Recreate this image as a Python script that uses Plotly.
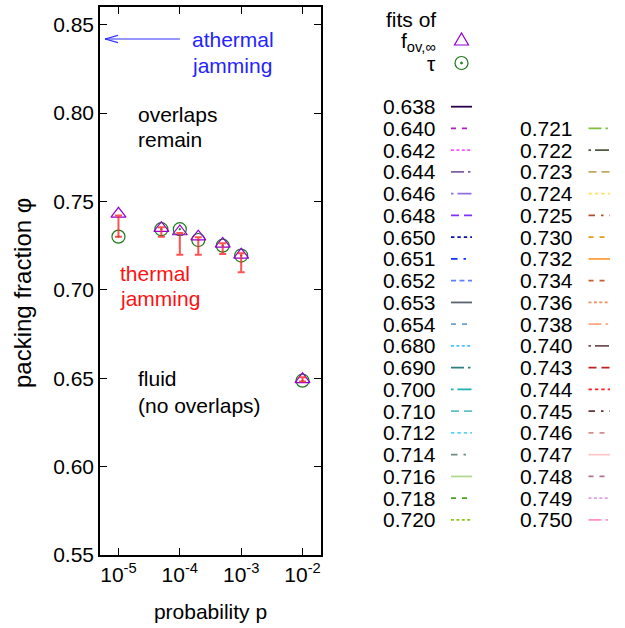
import plotly.graph_objects as go

# ---------------- data ----------------
p_vals = [1e-5, 5e-5, 1e-4, 2e-4, 5e-4, 1e-3, 1e-2]
phi_fov = [0.7430, 0.7349, 0.7330, 0.7301, 0.7260, 0.7198, 0.6494]
phi_tau = [0.7301, 0.7343, 0.7343, 0.7282, 0.7250, 0.7194, 0.6486]
err_low = [0.7301, 0.7301, 0.7198, 0.7198, 0.7203, 0.7099, 0.6481]
err_high = [0.7420, 0.7354, 0.7321, 0.7298, 0.7264, 0.7207, 0.6506]

x_tick_vals = [1e-5, 1e-4, 1e-3, 1e-2]
x_tick_text = ["10<sup>-5</sup>", "10<sup>-4</sup>", "10<sup>-3</sup>", "10<sup>-2</sup>"]
y_tick_vals = [0.55, 0.60, 0.65, 0.70, 0.75, 0.80, 0.85]
y_tick_text = ["0.55", "0.60", "0.65", "0.70", "0.75", "0.80", "0.85"]

key_col1_labels = ["0.638", "0.640", "0.642", "0.644", "0.646", "0.648", "0.650",
                   "0.651", "0.652", "0.653", "0.654", "0.680", "0.690", "0.700",
                   "0.710", "0.712", "0.714", "0.716", "0.718", "0.720"]
key_col2_labels = ["0.721", "0.722", "0.723", "0.724", "0.725", "0.730", "0.732",
                   "0.734", "0.736", "0.738", "0.740", "0.743", "0.744", "0.745",
                   "0.746", "0.747", "0.748", "0.749", "0.750"]

# ---------------- styles ----------------
key_col1_colors = ["#2a0050", "#b020c0", "#ff50ff", "#8060a0", "#9070e0", "#8030ff",
                   "#1010a0", "#1030ff", "#6080ff", "#5a6470", "#70a0c0", "#50c0ff",
                   "#308080", "#20b0b0", "#60c0c8", "#60d0f0", "#709080", "#b0d890",
                   "#50a020", "#90c820"]
key_col2_colors = ["#80c040", "#505840", "#c0a860", "#ffe060", "#b05030", "#e0a020",
                   "#ffa040", "#c06030", "#f09060", "#ffa880", "#705050", "#c02020",
                   "#ff2020", "#603838", "#d09090", "#ffc8c8", "#b07090", "#e0a0e0",
                   "#ff90c8"]
D_SOLID = "solid"
D_DASH = "5px,6px"
D_DOT = "3px,2.4px"
D_LDD = "13px,4px,2.5px,3px"
D_DLD = "2.5px,4px,14px"
D_LONG = "8px,5px"
D_SHORT = "3.4px,3px"
D_DD = "6.5px,6px,2.5px,6px"
D_SD = "5px,3.5px"
key_col1_dash = [D_SOLID, D_DASH, D_DOT, D_LDD, D_DLD, D_LONG, D_SHORT, D_DD, D_SD,
                 D_SOLID, D_DASH, D_DOT, D_LDD, D_DLD, D_LONG, D_SHORT, D_DD, D_SOLID,
                 D_DASH, D_DOT]
key_col2_dash = [D_LDD, D_DLD, D_LONG, D_SHORT, D_DD, D_DASH, D_SOLID, D_DASH, D_DOT,
                 D_LDD, D_DLD, D_LONG, D_SHORT, D_DD, D_DASH, D_SOLID, D_DASH, D_DOT,
                 D_LDD]

FONT = "Liberation Sans, Arial, Helvetica, sans-serif"
FS = 21
PURPLE = "#9400d3"
GREEN = "#1a7a1a"
RED_BAR = "rgba(255,40,40,0.8)"

W, H = 625, 628
ML, MR, MT, MB = 100, 304, 7, 73


def xp(px):
    return (px - ML) / (W - ML - MR)


def yp(py):
    return (H - MB - py) / (H - MT - MB)


fig = go.Figure()

fig.add_trace(go.Scatter(
    x=p_vals, y=phi_tau, mode="markers", name="tau",
    marker=dict(symbol="circle-open-dot", size=13, color=GREEN, line=dict(width=1.2, color=GREEN)),
    showlegend=False))
fig.add_trace(go.Scatter(
    x=p_vals, y=phi_fov, mode="markers", name="fov",
    marker=dict(symbol="triangle-up-open", size=13, color=PURPLE, line=dict(width=1.2, color=PURPLE)),
    showlegend=False))

err_mid = [(a + b) / 2 for a, b in zip(err_low, err_high)]
fig.add_trace(go.Scatter(
    x=p_vals, y=err_mid, mode="markers", name="err",
    marker=dict(size=1, color="rgba(0,0,0,0)"),
    error_y=dict(type="data", symmetric=False,
                 array=[h - m for h, m in zip(err_high, err_mid)],
                 arrayminus=[m - l for m, l in zip(err_mid, err_low)],
                 color=RED_BAR, thickness=2, width=3.5),
    showlegend=False))

shapes = []
annotations = []


def text(px, py, s, color="black", anchor="left", size=FS, angle=0):
    annotations.append(dict(x=xp(px), y=yp(py), xref="paper", yref="paper", text=s,
                            showarrow=False, xanchor=anchor, yanchor="middle", textangle=angle,
                            font=dict(family=FONT, size=size, color=color)))


# y axis title (placed like the reference)
text(22, 293, "packing fraction φ", anchor="center", size=24, angle=-90)

# in-plot labels
text(190, 39, "athermal", "#2424ff")
text(190, 65, "jamming", "#2424ff")
text(136, 114.5, "overlaps")
text(136, 139.5, "remain")
text(118, 273, "thermal", "#ff1010")
text(118, 298, "jamming", "#ff1010")
text(136, 378, "fluid")
text(136, 405, "(no overlaps)")

# arrow
ARROW = "#3030ff"
for (x0, y0, x1, y1) in [(180, 39, 105, 39), (105, 39, 118, 35.3), (105, 39, 118, 42.7)]:
    shapes.append(dict(type="line", xref="paper", yref="paper", x0=xp(x0), y0=yp(y0),
                       x1=xp(x1), y1=yp(y1), line=dict(color=ARROW, width=1.2)))

# key header
text(438, 19.7, "fits of", anchor="right")
text(438, 41.5, "f<sub>ov,∞</sub>", anchor="right")
text(438, 63.2, "τ", anchor="right")
tx, ty = 461.5, 40
shapes.append(dict(type="path", xref="paper", yref="paper",
                   path="M {} {} L {} {} L {} {} Z".format(xp(tx - 7), yp(ty + 5), xp(tx + 7), yp(ty + 5), xp(tx), yp(ty - 7)),
                   line=dict(color=PURPLE, width=1.2)))
cx, cy, r = 461.5, 63, 6.5
shapes.append(dict(type="circle", xref="paper", yref="paper", x0=xp(cx - r), x1=xp(cx + r),
                   y0=yp(cy + r), y1=yp(cy - r), line=dict(color=GREEN, width=1.2)))
shapes.append(dict(type="circle", xref="paper", yref="paper", x0=xp(cx - 1), x1=xp(cx + 1),
                   y0=yp(cy + 1), y1=yp(cy - 1), line=dict(color=GREEN, width=0.8), fillcolor=GREEN))

ROW0, DROW = 106.7, 21.75
for i, (lab, col, dash) in enumerate(zip(key_col1_labels, key_col1_colors, key_col1_dash)):
    y = ROW0 + i * DROW
    text(438, y, lab, anchor="right")
    shapes.append(dict(type="line", xref="paper", yref="paper", x0=xp(451), x1=xp(472),
                       y0=yp(y), y1=yp(y), line=dict(color=col, width=1.8, dash=dash)))
for j, (lab, col, dash) in enumerate(zip(key_col2_labels, key_col2_colors, key_col2_dash)):
    y = ROW0 + (j + 1) * DROW
    text(575, y, lab, anchor="right")
    shapes.append(dict(type="line", xref="paper", yref="paper", x0=xp(588.5), x1=xp(610),
                       y0=yp(y), y1=yp(y), line=dict(color=col, width=1.8, dash=dash)))

axis_common = dict(showline=True, linecolor="black", linewidth=1.5, mirror="ticks",
                   ticks="inside", ticklen=7, tickwidth=1.2, tickcolor="black",
                   showgrid=False, zeroline=False, automargin=False,
                   tickfont=dict(family=FONT, size=FS, color="black"))

fig.update_layout(
    width=W, height=H,
    margin=dict(l=ML, r=MR, t=MT, b=MB, pad=0, autoexpand=False),
    paper_bgcolor="white", plot_bgcolor="white",
    showlegend=False,
    xaxis=dict(type="log", range=[-5.301, -1.699], tickvals=x_tick_vals, ticktext=x_tick_text,
               title=dict(text="probability p", font=dict(family=FONT, size=FS, color="black"), standoff=19),
               **axis_common),
    yaxis=dict(range=[0.55, 0.86], tickvals=y_tick_vals, ticktext=y_tick_text,
               **axis_common),
    shapes=shapes,
    annotations=annotations,
)

fig.write_html("out.html", config={"displayModeBar": False},
               post_script="document.body.style.margin='0';document.body.style.overflow='hidden';")
